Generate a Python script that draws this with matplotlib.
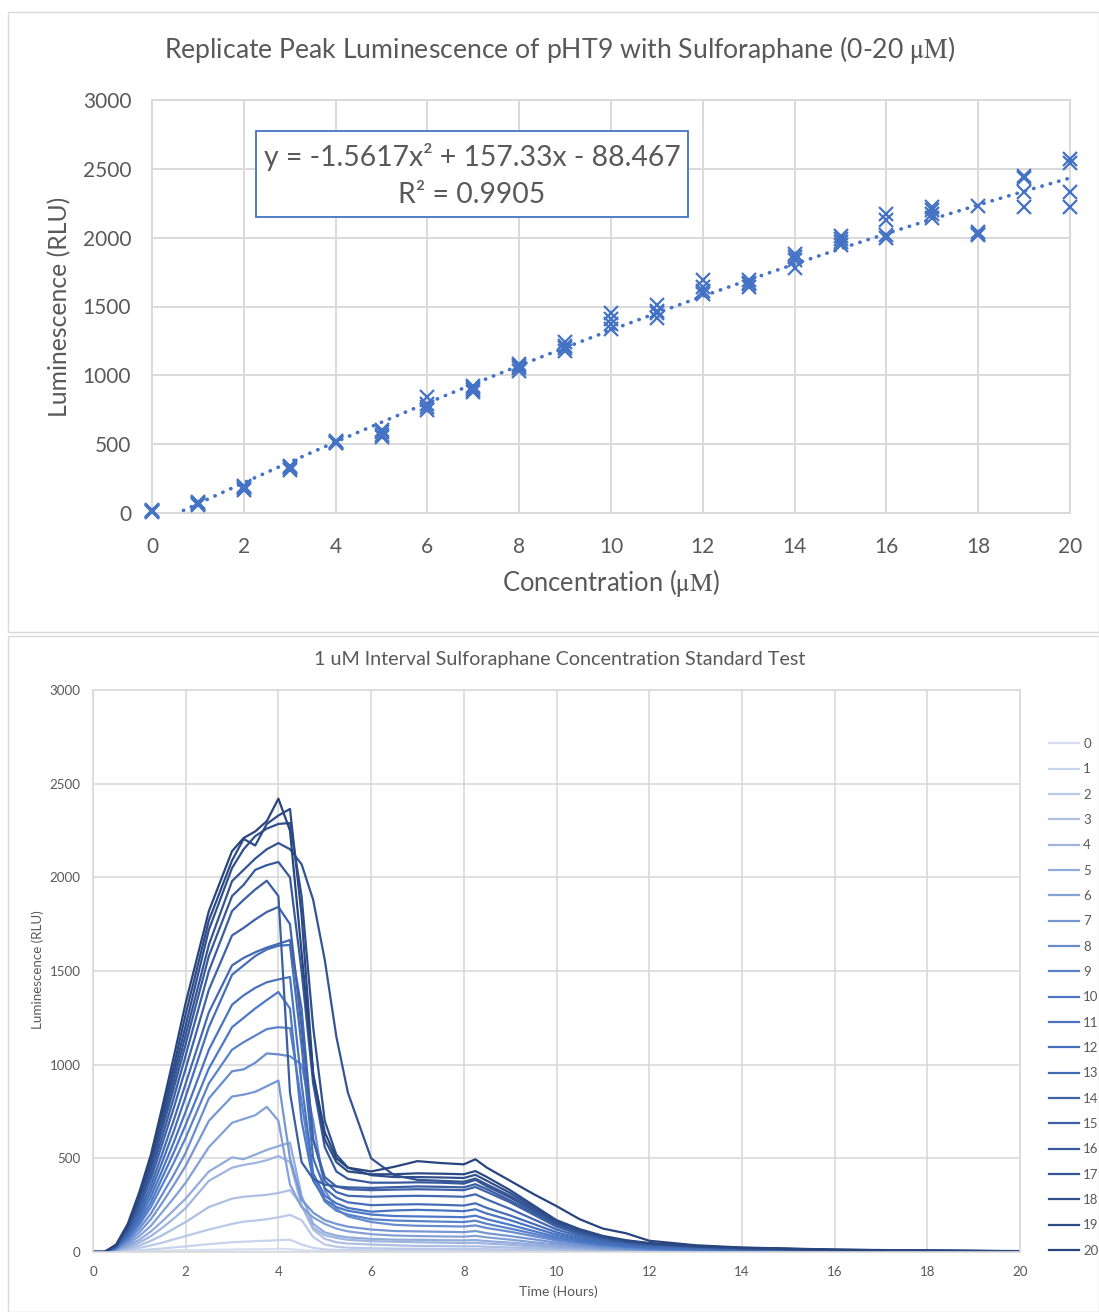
import numpy as np
import matplotlib
matplotlib.use("Agg")
import matplotlib.pyplot as plt
from matplotlib.patches import Rectangle

plt.rcParams['font.family'] = ['Lato', 'DejaVu Sans']
plt.rcParams['mathtext.fontset'] = 'stix'

# ---------- top chart data: replicate peak luminescence ----------
conc = list(range(21))
rep_a = [10, 55, 170, 315, 505, 555, 750, 880, 1030, 1180, 1340, 1420, 1590, 1640, 1780, 1950, 2000, 2140, 2020, 2225, 2225]
rep_b = [15, 65, 180, 325, 510, 570, 770, 895, 1050, 1200, 1370, 1450, 1610, 1660, 1840, 1970, 2020, 2170, 2030, 2330, 2330]
rep_c = [20, 75, 190, 335, 515, 585, 790, 905, 1065, 1215, 1410, 1470, 1640, 1670, 1860, 1990, 2130, 2200, 2040, 2430, 2545]
rep_d = [12, 80, 195, 345, 520, 600, 840, 920, 1080, 1240, 1450, 1510, 1690, 1690, 1880, 2010, 2170, 2220, 2230, 2450, 2575]
fit_coef = [-1.5617, 157.33, -88.467]
fit_label = "y = -1.5617x² + 157.33x - 88.467"
r2_label = "R² = 0.9905"

# ---------- bottom chart data: luminescence over time ----------
hours = [0, 0.25, 0.5, 0.75, 1.0, 1.25, 1.5, 1.75, 2.0,
         2.5, 3.0, 3.25, 3.5, 3.75, 4.0,
         4.25, 4.5, 4.75, 5.0, 5.25, 5.5, 6.0,
         6.5, 7.0, 7.5, 8.0, 8.25, 8.5, 9.0, 9.5,
         10.0, 10.5, 11.0, 11.5, 12.0, 13.0, 14.0, 16.0, 18.0, 20.0]

s0 = [0, 0, 1, 2, 3, 5, 6, 8, 9, 11, 13, 14, 14, 15, 16, 15, 10, 6, 4, 3, 3, 3,
      3, 3, 3, 3, 3, 3, 3, 2, 2, 2, 2, 1, 1, 1, 1, 1, 1, 1]
s1 = [0, 0, 2, 5, 9, 14, 19, 25, 30, 42, 52, 55, 58, 60, 63, 66, 40, 22, 14, 11, 10, 9,
      9, 9, 9, 9, 9, 8, 7, 6, 5, 4, 3, 3, 2, 2, 2, 1, 1, 1]
s2 = [0, 0, 4, 12, 22, 35, 50, 68, 85, 120, 150, 162, 168, 175, 185, 198, 170, 80, 40, 28, 23, 20,
      18, 17, 17, 16, 16, 15, 13, 11, 9, 7, 5, 4, 3, 3, 2, 2, 1, 1]
s3 = [0, 0, 6, 18, 35, 60, 90, 125, 160, 240, 285, 295, 300, 305, 315, 330, 250, 120, 70, 52, 45, 40,
      36, 32, 32, 30, 31, 28, 24, 20, 15, 11, 8, 6, 5, 4, 3, 2, 2, 1]
s4 = [0, 0, 8, 25, 50, 85, 130, 180, 235, 380, 450, 465, 475, 490, 512, 480, 250, 130, 90, 75, 65, 58,
      55, 52, 50, 48, 49, 45, 38, 30, 22, 16, 11, 8, 6, 4, 3, 2, 2, 1]
s5 = [0, 0, 10, 32, 65, 110, 165, 225, 285, 430, 505, 495, 520, 545, 565, 584, 300, 150, 105, 88, 78, 70,
      66, 65, 63, 62, 64, 58, 50, 40, 30, 22, 15, 11, 8, 5, 4, 3, 2, 1]
s6 = [0, 0, 12, 40, 85, 140, 215, 290, 370, 560, 690, 710, 730, 775, 700, 360, 240, 185, 150, 125, 110, 95,
      88, 85, 83, 82, 86, 78, 66, 52, 40, 28, 20, 14, 10, 6, 4, 3, 2, 1]
s7 = [0, 0, 15, 50, 105, 175, 265, 360, 460, 700, 830, 840, 855, 885, 915, 500, 280, 210, 170, 150, 135, 120,
      112, 110, 108, 106, 112, 100, 85, 68, 50, 36, 25, 17, 12, 7, 5, 3, 2, 1]
s8 = [0, 0, 18, 60, 125, 205, 310, 415, 530, 820, 965, 975, 1010, 1060, 1055, 1045, 1000, 700, 330, 230, 190, 160,
      145, 140, 138, 136, 142, 128, 108, 85, 62, 45, 31, 21, 14, 8, 5, 3, 2, 1]
s9 = [0, 0, 20, 70, 145, 240, 360, 480, 610, 900, 1080, 1120, 1155, 1190, 1200, 1195, 800, 400, 270, 220, 200, 175,
      168, 165, 162, 160, 167, 150, 125, 98, 70, 50, 36, 26, 18, 12, 8, 4, 3, 2]
s10 = [0, 0, 22, 78, 160, 265, 400, 535, 680, 980, 1200, 1250, 1300, 1345, 1388, 1300, 700, 380, 280, 240, 220, 200,
       192, 190, 188, 186, 194, 175, 145, 112, 80, 57, 40, 29, 21, 14, 9, 5, 3, 2]
s11 = [0, 0, 24, 85, 178, 295, 440, 590, 750, 1080, 1320, 1370, 1410, 1440, 1455, 1468, 900, 420, 300, 260, 235, 215,
       222, 225, 222, 218, 228, 205, 170, 130, 92, 65, 46, 33, 24, 16, 10, 5, 3, 2]
s12 = [0, 0, 26, 92, 195, 325, 485, 650, 830, 1200, 1480, 1530, 1580, 1615, 1635, 1639, 1100, 500, 340, 290, 265, 250,
       253, 255, 252, 248, 260, 235, 195, 150, 105, 74, 52, 38, 28, 19, 12, 6, 4, 2]
s13 = [0, 0, 28, 100, 215, 355, 530, 710, 900, 1280, 1530, 1570, 1600, 1625, 1645, 1665, 1300, 600, 380, 320, 300, 295,
       298, 300, 298, 295, 308, 280, 230, 175, 120, 85, 60, 45, 35, 24, 16, 8, 5, 3]
s14 = [0, 0, 30, 110, 235, 390, 580, 775, 980, 1400, 1690, 1730, 1775, 1815, 1842, 1750, 1200, 600, 400, 350, 335, 330,
       333, 335, 333, 330, 347, 320, 265, 200, 135, 95, 68, 50, 38, 26, 18, 9, 5, 3]
s15 = [0, 0, 32, 118, 250, 415, 620, 830, 1050, 1500, 1820, 1880, 1935, 1982, 1900, 850, 480, 390, 360, 350, 345, 342,
       346, 350, 348, 345, 362, 335, 275, 210, 145, 102, 72, 53, 40, 28, 19, 10, 6, 3]
s16 = [0, 0, 34, 125, 265, 440, 660, 880, 1110, 1580, 1900, 1960, 2040, 2065, 2082, 2000, 1500, 900, 560, 430, 390, 370,
       370, 372, 370, 365, 385, 350, 290, 220, 150, 108, 76, 56, 42, 29, 20, 10, 6, 4]
s17 = [0, 0, 35, 130, 280, 460, 690, 920, 1160, 1640, 1980, 2040, 2100, 2150, 2183, 2150, 2070, 1880, 1560, 1150, 850, 500,
       410, 385, 380, 375, 392, 360, 300, 230, 155, 112, 80, 58, 44, 30, 21, 11, 6, 4]
s18 = [0, 0, 36, 135, 290, 480, 720, 960, 1210, 1720, 2050, 2150, 2220, 2260, 2285, 2290, 1900, 1200, 700, 520, 450, 410,
       400, 400, 398, 395, 412, 380, 315, 240, 162, 116, 82, 60, 46, 31, 21, 11, 7, 4]
s19 = [0, 0, 38, 140, 300, 500, 750, 1000, 1270, 1770, 2090, 2205, 2170, 2285, 2330, 2365, 1800, 950, 600, 480, 430, 415,
       415, 420, 418, 415, 432, 400, 330, 250, 170, 122, 86, 63, 48, 32, 22, 12, 7, 4]
s20 = [0, 0, 40, 150, 320, 520, 780, 1050, 1330, 1820, 2140, 2210, 2245, 2300, 2420, 2250, 1600, 950, 640, 500, 450, 430,
       455, 485, 475, 468, 495, 450, 380, 310, 245, 175, 125, 100, 60, 36, 24, 13, 8, 5]

series = [s0, s1, s2, s3, s4, s5, s6, s7, s8, s9, s10, s11, s12, s13, s14, s15, s16, s17, s18, s19, s20]
series_labels = [str(i) for i in range(21)]

# ---------- layout ----------
W, H = 1099, 1312
blue = '#4472C4'
grid_c = '#D9D9D9'
text_c = '#595959'

fig = plt.figure(figsize=(W / 100, H / 100), dpi=100)

# chart-area borders
fig.patches.append(Rectangle((8 / W, 1 - 632 / H), (W - 8) / W, 620 / H, transform=fig.transFigure,
                             fill=False, edgecolor=grid_c, lw=1))
fig.patches.append(Rectangle((8 / W, 0), (W - 8) / W, 1 - 636 / H, transform=fig.transFigure,
                             fill=False, edgecolor=grid_c, lw=1))

# ---------- top chart ----------
ax1 = fig.add_axes([152 / W, 1 - 513 / H, 918 / W, 413 / H])
for rep in [rep_a, rep_b, rep_c, rep_d]:
    ax1.plot(conc, rep, linestyle='none', marker='x', markersize=10, mew=1.6, color=blue,
             zorder=3, clip_on=False)

xfit = np.linspace(0, 20, 300)
ax1.plot(xfit, np.polyval(fit_coef, xfit), color=blue, lw=2.6, linestyle=(0, (0.1, 2.3)),
         dash_capstyle='round', zorder=2)

ax1.set_xlim(0, 20)
ax1.set_ylim(0, 3000)
ax1.set_xticks(range(0, 21, 2))
ax1.set_yticks(range(0, 3001, 500))
ax1.grid(True, color=grid_c, lw=1.4)
ax1.set_axisbelow(True)
for sp in ax1.spines.values():
    sp.set_color(grid_c)
    sp.set_linewidth(1.4)
ax1.tick_params(length=0, labelsize=15, colors=text_c)
ax1.tick_params(axis='x', pad=17)
ax1.tick_params(axis='y', pad=15)

box = Rectangle(((256 - 152) / 918, (513 - 217) / 413), 432 / 918, 86 / 413, transform=ax1.transAxes,
                facecolor='white', edgecolor=blue, lw=1.3, zorder=5)
ax1.add_patch(box)
ax1.text((472 - 152) / 918, (513 - 157) / 413, fit_label, transform=ax1.transAxes, ha='center', va='center',
         fontsize=20.4, color=text_c, zorder=6)
ax1.text((472 - 152) / 918, (513 - 195) / 413, r2_label, transform=ax1.transAxes, ha='center', va='center',
         fontsize=20.4, color=text_c, zorder=6)

fig.text(560 / W, 1 - 50 / H, r"Replicate Peak Luminescence of pHT9 with Sulforaphane (0-20 $\mathrm{\mu M}$)",
         ha='center', va='center', fontsize=19.2, color=text_c)
fig.text(611 / W, 1 - 583 / H, r"Concentration ($\mathrm{\mu M}$)", ha='center', va='center',
         fontsize=18.4, color=text_c)
fig.text(60 / W, 1 - 307 / H, "Luminescence (RLU)", ha='center', va='center', rotation=90,
         fontsize=17.8, color=text_c)

# ---------- bottom chart ----------
ax2 = fig.add_axes([93 / W, 1 - 1252 / H, 927 / W, 562 / H])
c_light = np.array([0.84, 0.87, 0.94])
c_mid = np.array([0.30, 0.47, 0.78])
c_dark = np.array([0.16, 0.27, 0.49])
colors = []
for k in range(21):
    if k <= 10:
        f = k / 10
        colors.append(tuple(c_light + (c_mid - c_light) * f))
    else:
        f = (k - 10) / 10
        colors.append(tuple(c_mid + (c_dark - c_mid) * f))

handles = []
for s, c, lab in zip(series, colors, series_labels):
    ln, = ax2.plot(hours, s, color=c, lw=1.6, solid_joinstyle='round', label=lab)
    handles.append(ln)

ax2.set_xlim(0, 20)
ax2.set_ylim(0, 3000)
ax2.set_xticks(range(0, 21, 2))
ax2.set_yticks(range(0, 3001, 500))
ax2.grid(True, color=grid_c, lw=1.2)
ax2.set_axisbelow(True)
for sp in ax2.spines.values():
    sp.set_color(grid_c)
    sp.set_linewidth(1.2)
ax2.tick_params(length=0, labelsize=9.6, colors=text_c)
ax2.tick_params(axis='x', pad=10)
ax2.tick_params(axis='y', pad=9)

fig.text(560 / W, 1 - 660 / H, "1 uM Interval Sulforaphane Concentration Standard Test",
         ha='center', va='center', fontsize=14.2, color=text_c)
fig.text(558 / W, 1 - 1292 / H, "Time (Hours)", ha='center', va='center', fontsize=10, color=text_c)
fig.text(38 / W, 1 - 970 / H, "Luminescence (RLU)", ha='center', va='center', rotation=90,
         fontsize=9.6, color=text_c)

fig.legend(handles, series_labels, loc='upper left', bbox_to_anchor=(1049 / W, 1 - 738 / H),
           frameon=False, fontsize=9.5, labelcolor=text_c, handlelength=2.3, handletextpad=0.3,
           labelspacing=1.01, borderaxespad=0, borderpad=0)

fig.savefig("out.png", dpi=100)
